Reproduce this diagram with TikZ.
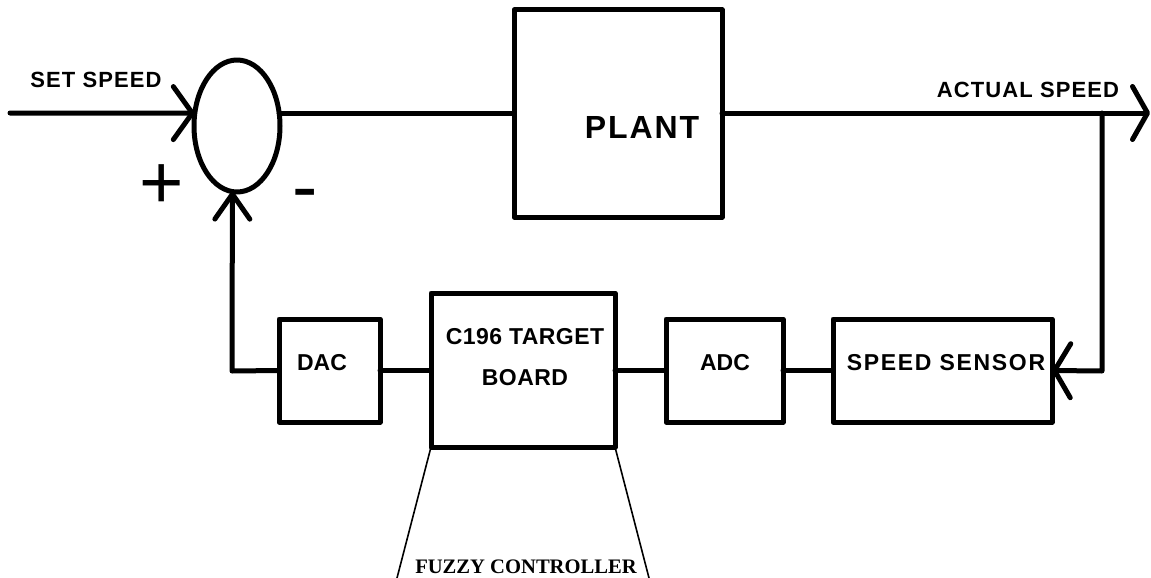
\documentclass[tikz,border=0pt]{standalone}
\usepackage{fontspec}
\setmainfont{Liberation Sans}
\newfontfamily\fuzzyfont{Liberation Serif}
\usetikzlibrary{arrows.meta,shapes.geometric}
\begin{document}
\begin{tikzpicture}[x=1pt,y=-1pt,
  blk/.style={draw,line width=5pt,inner sep=0pt,outer sep=0pt,line join=round},
  wire/.style={line width=5pt,line cap=round,line join=round},
  thinwire/.style={line width=1.6pt,line cap=round},
  lbl/.style={inner sep=0pt,font=\fontsize{23}{41}\selectfont\bfseries},
  sig/.style={inner sep=0pt,font=\fontsize{22}{26}\selectfont\bfseries\addfontfeatures{LetterSpace=5}},
  sign/.style={inner sep=0pt,anchor=base,font=\fontsize{76}{76}\selectfont}]
\useasboundingbox (0,0) rectangle (1151,578);

% blocks
\node[blk,ellipse,minimum width=86pt,minimum height=132pt] (sum) at (237,126) {};
\node[blk,minimum width=208pt,minimum height=207pt] (plant) at (618,113.5) {};
\node[blk,minimum width=101pt,minimum height=103pt] (dac) at (329.5,370.5) {};
\node[blk,minimum width=184pt,minimum height=154pt] (board) at (523,370) {};
\node[blk,minimum width=117pt,minimum height=103pt] (adc) at (724.5,370.5) {};
\node[blk,minimum width=219pt,minimum height=103pt] (sensor) at (942.5,370.5) {};

% block texts
\node[lbl,font=\fontsize{32}{36}\selectfont\bfseries\addfontfeatures{LetterSpace=6}] (planttxt) at (642,127) {PLANT};
\node[lbl] (dactxt) at (322,363) {DAC};
\node[lbl,align=center,font=\fontsize{23}{41}\selectfont\bfseries\addfontfeatures{LetterSpace=2}] (boardtxt) at (525,357.5) {C196 TARGET\\BOARD};
\node[lbl] (adctxt) at (725,363) {ADC};
\node[lbl,font=\fontsize{23}{28}\selectfont\bfseries\addfontfeatures{LetterSpace=7.3}] (sensortxt) at (946,363) {SPEED SENSOR};

% signal labels
\node[sig] (setlbl) at (96,80) {SET SPEED};
\node[sig] (actlbl) at (1028,89.5) {ACTUAL SPEED};
\node[sign] (plus) at (162,208) {+};
\node[sign] (minus) at (305,212) {-};

% coordinates
\coordinate (in) at (10,113);
\coordinate (outend) at (1150,113);
\coordinate (br) at (1102,113);
\coordinate (brd) at (1102,371);
\coordinate (fb) at (232,371);
\coordinate (fzl) at (397,578);
\coordinate (fzr) at (649,578);

% connectors
\draw[wire,-{Straight Barb[length=19pt,width=53pt,round]}] (in) -- (sum.163);
\draw[wire] (sum.17) -- (sum.17 -| plant.west);
\draw[wire,-{Straight Barb[length=15pt,width=53pt,round]}] (plant.east |- outend) -- (outend);
\draw[wire,-{Straight Barb[length=16pt,width=54pt,round]}] (br) -- (brd) -- (sensor.east);
\draw[wire] (sensor.west) -- (adc.east);
\draw[wire] (adc.west) -- (adc.west -| board.east);
\draw[wire] (board.west |- dac.east) -- (dac.east);
\draw[wire,-{Straight Barb[length=25pt,width=35pt,round]}] (dac.west) -- (fb) -- (sum.266);

% fuzzy controller
\draw[thinwire] (board.south west) -- (fzl);
\draw[thinwire] (board.south east) -- (fzr);
\node[inner sep=0pt,font=\fontsize{20.6}{24}\selectfont\fuzzyfont\bfseries] (fuzzy) at (526,567) {FUZZY CONTROLLER};
\end{tikzpicture}
\end{document}
